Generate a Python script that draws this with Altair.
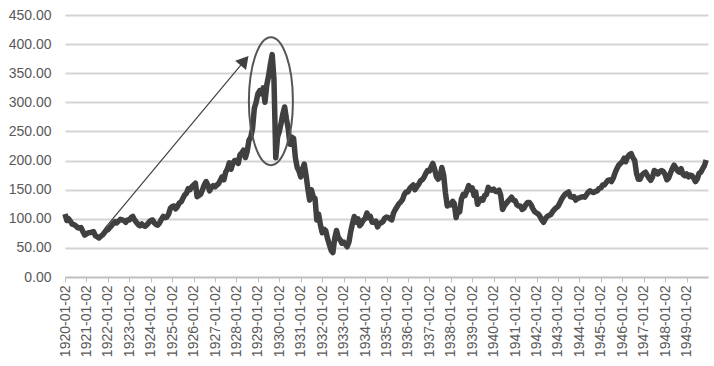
import altair as alt
import pandas as pd

# Monthly index values (one value per month, Jan..Dec)
values_1920s = [
    108, 97, 100, 96, 91, 90, 88, 85, 84, 85, 78, 72,        # 1920
    74, 76, 76, 77, 78, 71, 69, 67, 70, 72, 76, 80,          # 1921
    81, 85, 88, 92, 95, 93, 96, 99, 98, 97, 94, 98,          # 1922
    98, 102, 104, 98, 94, 90, 88, 91, 88, 87, 90, 94,        # 1923
    97, 98, 93, 90, 89, 93, 99, 104, 102, 103, 108, 118,     # 1924
    121, 122, 117, 121, 127, 129, 135, 141, 144, 152, 150, 155,  # 1925
    158, 161, 138, 140, 142, 150, 158, 164, 158, 148, 154, 157,  # 1926
    155, 158, 160, 166, 172, 167, 180, 186, 196, 185, 196, 200,  # 1927
    200, 195, 210, 213, 218, 205, 215, 235, 240, 255, 290, 300,  # 1928
    315, 320, 315, 325, 300, 330, 345, 365, 382, 340, 205, 240,  # 1929
]
values_1930s = [
    250, 265, 280, 292, 272, 255, 228, 240, 238, 205, 188, 182,  # 1930
    172, 186, 194, 175, 152, 132, 150, 138, 135, 98, 108, 90,    # 1931
    76, 82, 80, 66, 56, 46, 42, 66, 80, 68, 64, 58,              # 1932
    60, 56, 52, 60, 78, 92, 104, 94, 100, 88, 92, 98,            # 1933
    100, 110, 102, 104, 94, 94, 96, 86, 92, 93, 95, 101,         # 1934
    103, 102, 100, 98, 110, 116, 121, 126, 129, 133, 142, 146,   # 1935
    146, 152, 155, 158, 150, 155, 159, 165, 167, 171, 178, 183,  # 1936
    182, 189, 195, 185, 172, 168, 172, 188, 175, 145, 122, 126,  # 1937
    124, 130, 126, 102, 114, 112, 134, 142, 140, 148, 157, 150,  # 1938
    153, 140, 146, 125, 130, 134, 132, 140, 142, 154, 150, 149,  # 1939
]
values_1940s = [
    151, 147, 147, 149, 140, 116, 122, 126, 130, 133, 137, 132,  # 1940
    131, 124, 122, 122, 116, 118, 124, 128, 128, 124, 117, 112,  # 1941
    110, 108, 104, 98, 94, 100, 104, 106, 107, 112, 116, 119,    # 1942
    121, 127, 133, 138, 142, 144, 146, 138, 137, 138, 132, 135,  # 1943
    136, 137, 138, 137, 141, 146, 148, 146, 145, 147, 148, 152,  # 1944
    153, 158, 158, 162, 166, 167, 164, 170, 179, 186, 192, 195,  # 1945
    198, 204, 198, 206, 210, 212, 205, 200, 178, 168, 168, 175,  # 1946
    178, 180, 175, 170, 166, 172, 183, 181, 177, 181, 183, 181,  # 1947
    176, 167, 170, 178, 186, 192, 188, 182, 180, 186, 176, 174,  # 1948
    177, 172, 175, 174, 170, 164, 168, 178, 180, 186, 191, 201,  # 1949
]

years = list(range(1920, 1950))
y_ticks = [0, 50, 100, 150, 200, 250, 300, 350, 400, 450]

# Annotation anchors (in data units)
arrow_start = ("1921-11-13T00:00:00", 84)
arrow_head = ("1928-05-19T00:00:00", 371.6)
ellipse_center = ("1929-08-11T00:00:00", 302)

values = values_1920s + values_1930s + values_1940s
dates = [f"{y}-{m:02d}-02T00:00:00" for y in years for m in range(1, 13)]
df = pd.DataFrame({"date": dates, "value": values})

x_scale = alt.Scale(domain=[alt.DateTime(year=1920, month=1, date=2),
                            alt.DateTime(year=1950, month=1, date=2)])
y_scale = alt.Scale(domain=[0, 450], nice=False)

x_axis = alt.Axis(
    values=[alt.DateTime(year=y, month=1, date=2) for y in years],
    format="%Y-%m-%d", labelAngle=-90, labelAlign="right", labelBaseline="middle",
    labelFont="Liberation Sans", labelFontSize=14, labelColor="#595959",
    labelPadding=3, tickSize=5, tickColor="#bfbfbf", domainColor="#bfbfbf",
    domainWidth=1.5, grid=False, title=None, labelOverlap=False, labelFlush=False,
)
y_axis = alt.Axis(
    values=y_ticks, format=".2f", labelFont="Liberation Sans", labelFontSize=14,
    labelColor="#595959", labelPadding=14, ticks=False, domain=False,
    grid=True, gridColor="#d4d4d4", gridWidth=2, title=None, labelOverlap=False,
)

X = lambda f: alt.X(f, scale=x_scale, axis=x_axis, title=None)
Y = lambda f: alt.Y(f, scale=y_scale, axis=y_axis, title=None)

line = alt.Chart(df).mark_line(color="#404040", strokeWidth=5.5, strokeJoin="round").encode(
    x=X("date:T"), y=Y("value:Q"),
)

arrow_df = pd.DataFrame({
    "date": [arrow_start[0]], "value": [arrow_start[1]],
    "date2": [arrow_head[0]], "value2": [arrow_head[1]],
})
arrow_line = alt.Chart(arrow_df).mark_rule(color="#404040", strokeWidth=1.2).encode(
    x=X("date:T"), y=Y("value:Q"), x2="date2:T", y2="value2:Q",
)
head_df = pd.DataFrame({"date": [arrow_head[0]], "value": [arrow_head[1]]})
arrow_tip = alt.Chart(head_df).mark_point(
    shape="triangle-up", filled=True, size=200, angle=40, color="#404040", opacity=1
).encode(x=X("date:T"), y=Y("value:Q"))

k = 0.5523
rx = 0.344
ellipse_path = (
    f"M0,-1 C{rx*k:.4f},-1 {rx},-{k} {rx},0 "
    f"C{rx},{k} {rx*k:.4f},1 0,1 "
    f"C-{rx*k:.4f},1 -{rx},{k} -{rx},0 "
    f"C-{rx},-{k} -{rx*k:.4f},-1 0,-1 Z"
)
ell_df = pd.DataFrame({"date": [ellipse_center[0]], "value": [ellipse_center[1]]})
ellipse = alt.Chart(ell_df).mark_point(
    shape=ellipse_path, filled=False, size=16384, stroke="#555555",
    strokeWidth=2, opacity=1
).encode(x=X("date:T"), y=Y("value:Q"))

chart = alt.layer(line, arrow_line, arrow_tip, ellipse).properties(
    width=643, height=262,
    autosize=alt.AutoSizeParams(type="none"),
    padding={"left": 65, "top": 15, "right": 6, "bottom": 89},
    background="white",
).configure_view(stroke=None)

chart.save("out.html", embed_options={"renderer": "svg", "actions": False})
